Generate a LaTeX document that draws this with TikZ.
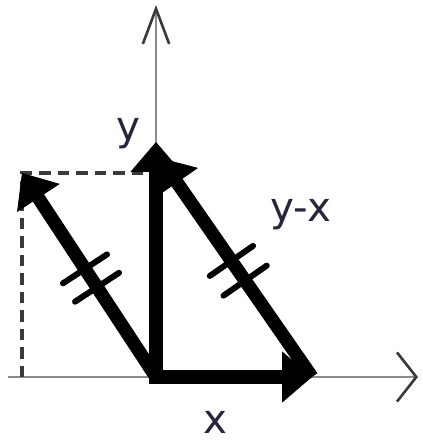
\documentclass[tikz,border=0pt]{standalone}
\usepackage{fontspec}
\setsansfont{DejaVu Sans}
\usetikzlibrary{arrows.meta, calc}
\definecolor{caxis}{HTML}{8C8C8C}
\definecolor{cdark}{HTML}{3A3A3A}
\definecolor{clabel}{HTML}{25253F}
\tikzset{
  every picture/.style={font=\sffamily},
  axis/.style={draw=caxis, line width=1.1pt},
  vec/.style={draw=black, line width=7.6pt, -{Triangle[length=17pt, width=29pt, line width=0.5pt]}},
  hash/.style={draw=black, line width=3.4pt, line cap=round},
  guide/.style={draw=cdark, line width=1.8pt, dash pattern=on 6.5pt off 4pt},
  lbl/.style={text=clabel, font=\sffamily\fontsize{23}{26}\selectfont},
}

\begin{document}
\begin{tikzpicture}[x=0.02cm, y=-0.02cm]
  \useasboundingbox (0,0) rectangle (422,442);
  % axes
  \coordinate (O) at (156,377);
  \coordinate (xstart) at (8,377);
  \coordinate (xend) at (418,377);
  \coordinate (ytop) at (156,5);
  \draw[axis, -{Straight Barb[length=11pt, width=28pt, line width=1.5pt, color=cdark]}] (xstart) -- (xend);
  \draw[axis, -{Straight Barb[length=20pt, width=15pt, line width=1.5pt, color=cdark]}] (O) -- (ytop);
  % vector ends
  \coordinate (X) at (312,377);
  \coordinate (Y) at (156,142);
  \coordinate (L) at (22,173);
  \coordinate (R) at (160,158);
  \coordinate (Lx) at (22,377);
  \coordinate (Ly) at (145,173);
  % dashed guides
  \draw[guide] (Lx) -- (L) -- (Ly);
  % vectors
  \draw[vec, line cap=rect] (O) -- (Y);
  \draw[vec, line cap=rect] (O) -- (X);
  \draw[vec] (O) -- (L);
  \draw[vec] (X) -- (R);
  % equal-length marks
  \foreach \t in {0.44, 0.53} {
    \coordinate (m) at ($(O)!\t!(L)$);
    \draw[hash] ($(m)!15pt!90:(L)$) -- ($(m)!15pt!-90:(L)$);
    \coordinate (n) at ($(X)!\t!(R)$);
    \draw[hash] ($(n)!15pt!90:(R)$) -- ($(n)!15pt!-90:(R)$);
  }
  % labels
  \node[lbl] (ylbl) at (128,134) {y};
  \node[lbl] (yxlbl) at (301,215) {y-x};
  \node[lbl] (xlbl) at (215,422) {x};
\end{tikzpicture}
\end{document}
